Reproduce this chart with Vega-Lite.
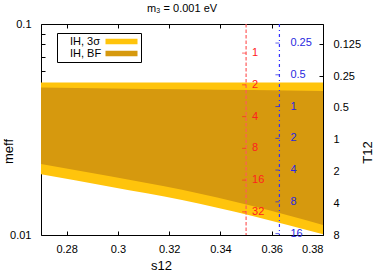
{
  "$schema": "https://vega.github.io/schema/vega-lite/v6.json",
  "width": 282,
  "height": 211,
  "autosize": {"type": "none"},
  "padding": {"left": 41, "top": 24, "right": 59, "bottom": 38},
  "title": {"text": "m₃ = 0.001 eV", "fontSize": 11, "fontWeight": "normal", "font": "Liberation Sans", "offset": 4, "color": "black"},
  "config": {
    "font": "Liberation Sans",
    "view": {"stroke": null},
    "axis": {"labelFont": "Liberation Sans", "titleFont": "Liberation Sans", "labelFontSize": 11, "titleFontSize": 13, "titleFontWeight": "normal", "labelColor": "black", "titleColor": "black", "tickColor": "black", "domainColor": "black", "grid": false, "zindex": 1}
  },
  "datasets": {
    "band": [
      {"s12": 0.27, "lo3": 0.0194, "hi3": 0.0528, "loBF": 0.0217, "hiBF": 0.0500},
      {"s12": 0.2975, "lo3": 0.01688, "hi3": 0.0528, "loBF": 0.01894, "hiBF": 0.0495},
      {"s12": 0.325, "lo3": 0.01465, "hi3": 0.0528, "loBF": 0.01639, "hiBF": 0.0490},
      {"s12": 0.3525, "lo3": 0.0123, "hi3": 0.0528, "loBF": 0.01372, "hiBF": 0.0486},
      {"s12": 0.38, "lo3": 0.01008, "hi3": 0.0528, "loBF": 0.01115, "hiBF": 0.0481}
    ],
    "redline": [{"s12": 0.35}],
    "blueline": [{"s12": 0.363}],
    "red": [
      {"s12": 0.35, "T": 1}, {"s12": 0.35, "T": 2}, {"s12": 0.35, "T": 4},
      {"s12": 0.35, "T": 8}, {"s12": 0.35, "T": 16}, {"s12": 0.35, "T": 32}
    ],
    "blue": [
      {"s12": 0.363, "T": 0.25}, {"s12": 0.363, "T": 0.5}, {"s12": 0.363, "T": 1},
      {"s12": 0.363, "T": 2}, {"s12": 0.363, "T": 4}, {"s12": 0.363, "T": 8}, {"s12": 0.363, "T": 16}
    ],
    "t12": [{"T": 0.125}, {"T": 0.25}, {"T": 0.5}, {"T": 1}, {"T": 2}, {"T": 4}, {"T": 8}]
  },
  "layer": [
    {
      "data": {"name": "band"},
      "mark": {"type": "area", "interpolate": "monotone"},
      "encoding": {
        "x": {"field": "s12", "type": "quantitative", "scale": {"domain": [0.27, 0.38], "nice": false, "zero": false},
          "axis": {"orient": "bottom", "values": [0.28, 0.3, 0.32, 0.34, 0.36, 0.38], "format": ".2~f", "tickSize": -4, "labelPadding": 12, "title": "s12", "titleX": 120, "titleY": 30, "titleBaseline": "middle"}},
        "y": {"field": "hi3", "type": "quantitative", "scale": {"type": "log", "domain": [0.01, 0.1], "nice": false},
          "axis": {"orient": "left", "values": [0.01, 0.02, 0.03, 0.04, 0.05, 0.06, 0.07, 0.08, 0.09, 0.1], "format": "~g", "labelExpr": "datum.value == 0.01 || datum.value == 0.1 ? datum.label : ''", "tickSize": -4, "labelPadding": 14, "title": "meff", "titleX": -33, "titleY": 127, "titleAngle": 270, "titleBaseline": "middle", "titleAlign": "center"}},
        "y2": {"field": "lo3"},
        "color": {"datum": "IH, 3σ", "type": "nominal",
          "scale": {"domain": ["IH, 3σ", "IH, BF"], "range": ["#ffc40c", "#d6990e"]},
          "legend": {"orient": "none", "legendX": 16, "legendY": 9, "title": null, "symbolType": "M8,-0.53H14.4V0.53H8Z", "symbolSize": 100, "symbolStrokeWidth": 0, "symbolOpacity": 1, "labelFont": "Liberation Sans", "labelFontSize": 11, "labelColor": "black", "labelOffset": -1, "strokeColor": "black", "padding": 3, "rowPadding": 0}}
      }
    },
    {
      "data": {"name": "band"},
      "mark": {"type": "area", "interpolate": "monotone"},
      "encoding": {
        "x": {"field": "s12", "type": "quantitative", "scale": {"domain": [0.27, 0.38], "nice": false, "zero": false}, "axis": null},
        "y": {"field": "hiBF", "type": "quantitative", "scale": {"type": "log", "domain": [0.01, 0.1], "nice": false}, "axis": null},
        "y2": {"field": "loBF"},
        "color": {"datum": "IH, BF", "type": "nominal"}
      }
    },
    {
      "data": {"name": "redline"},
      "mark": {"type": "rule", "color": "#ff5c5c", "strokeWidth": 1.2, "strokeDash": [3.5, 2]},
      "encoding": {
        "x": {"field": "s12", "type": "quantitative", "scale": {"domain": [0.27, 0.38], "nice": false, "zero": false}, "axis": null}
      }
    },
    {
      "data": {"name": "blueline"},
      "mark": {"type": "rule", "color": "#3030ff", "strokeWidth": 1.2, "strokeDash": [3, 3, 1, 3]},
      "encoding": {
        "x": {"field": "s12", "type": "quantitative", "scale": {"domain": [0.27, 0.38], "nice": false, "zero": false},
          "axis": {"orient": "top", "values": [0.28, 0.3, 0.32, 0.34, 0.36, 0.38], "labels": false, "tickSize": -4, "title": null}}
      }
    },
    {
      "data": {"name": "red"},
      "mark": {"type": "tick", "orient": "horizontal", "size": 4, "thickness": 1, "color": "#ff2a2a", "xOffset": -2},
      "encoding": {
        "x": {"field": "s12", "type": "quantitative", "scale": {"domain": [0.27, 0.38], "nice": false, "zero": false}, "axis": null},
        "y": {"field": "T", "type": "quantitative", "scale": {"type": "log", "domain": [0.53, 53], "reverse": true, "nice": false}, "axis": null}
      }
    },
    {
      "data": {"name": "red"},
      "mark": {"type": "text", "align": "left", "baseline": "middle", "dx": 6, "fontSize": 11, "color": "#ff2020", "font": "Liberation Sans"},
      "encoding": {
        "x": {"field": "s12", "type": "quantitative", "scale": {"domain": [0.27, 0.38], "nice": false, "zero": false}, "axis": null},
        "y": {"field": "T", "type": "quantitative", "scale": {"type": "log", "domain": [0.53, 53], "reverse": true, "nice": false}, "axis": null},
        "text": {"field": "T", "type": "quantitative", "format": "~g"}
      }
    },
    {
      "data": {"name": "blue"},
      "mark": {"type": "tick", "orient": "horizontal", "size": 4, "thickness": 1, "color": "#2020e0", "xOffset": -2},
      "encoding": {
        "x": {"field": "s12", "type": "quantitative", "scale": {"domain": [0.27, 0.38], "nice": false, "zero": false}, "axis": null},
        "y": {"field": "T", "type": "quantitative", "scale": {"type": "log", "domain": [0.165, 16.5], "reverse": true, "nice": false}, "axis": null}
      }
    },
    {
      "data": {"name": "blue"},
      "mark": {"type": "text", "align": "left", "baseline": "middle", "dx": 11, "fontSize": 11, "color": "#2828e0", "font": "Liberation Sans"},
      "encoding": {
        "x": {"field": "s12", "type": "quantitative", "scale": {"domain": [0.27, 0.38], "nice": false, "zero": false}, "axis": null},
        "y": {"field": "T", "type": "quantitative", "scale": {"type": "log", "domain": [0.165, 16.5], "reverse": true, "nice": false}, "axis": null},
        "text": {"field": "T", "type": "quantitative", "format": "~g"}
      }
    },
    {
      "data": {"name": "t12"},
      "mark": {"type": "point", "opacity": 0},
      "encoding": {
        "y": {"field": "T", "type": "quantitative", "scale": {"type": "log", "domain": [0.08, 8], "reverse": true, "nice": false},
          "axis": {"orient": "right", "values": [0.125, 0.25, 0.5, 1, 2, 4, 8], "format": "~g", "tickSize": -4, "labelPadding": 14, "labelAlign": "left", "title": "T12", "titleX": 44, "titleY": 128, "titleAngle": 270, "titleBaseline": "middle", "titleAlign": "center"}}
      }
    }
  ],
  "resolve": {"scale": {"x": "independent", "y": "independent"}}
}
